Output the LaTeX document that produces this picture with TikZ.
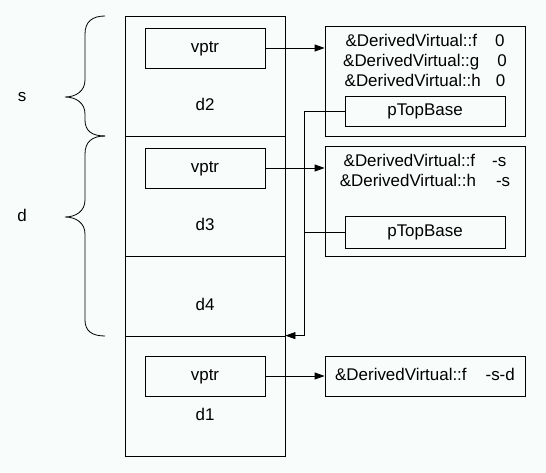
\documentclass[tikz,border=0pt]{standalone}
\usepackage{fontspec}
\setmainfont{Liberation Sans}
\usetikzlibrary{arrows.meta}
\definecolor{paper}{RGB}{248,252,250}
\tikzset{
  every node/.style={text height=12bp, text depth=3.5bp},
  cell/.style={draw, minimum width=160bp, inner sep=0pt},
  box/.style={draw, minimum width=120bp, minimum height=40bp, inner sep=0pt},
  tab/.style={draw, minimum width=200bp, inner sep=0pt},
  ptr/.style={-{Triangle[length=10bp,width=7bp]}},
}
\begin{document}
\begin{tikzpicture}[x=1bp,y=-1bp,line width=0.8bp,font=\fontsize{17}{20}\selectfont]
\fill[paper] (0,0) rectangle (546,473);
\useasboundingbox (0,0) rectangle (546,473);
% object layout
\node[cell, minimum height=120bp] (c2) at (205,76) {};
\node[cell, minimum height=120bp] (c3) at (205,196) {};
\node[cell, minimum height=80bp] (c4) at (205,296) {};
\node[cell, minimum height=120bp] (c1) at (205,396) {};
\node[box] (v2) at (205,48) {vptr};
\node[box] (v3) at (205,168) {vptr};
\node[box] (v1) at (205,376) {vptr};
\node (n2) at (205,106) {d2};
\node (n3) at (205,226) {d3};
\node (n4) at (205,306) {d4};
\node (n1) at (205,416) {d1};
% braces
\draw (105,16) .. controls (92,16) and (85,22) .. (85,34) -- (85,80)
  .. controls (85,91) and (76,97) .. (65,97)
  .. controls (76,97) and (85,103) .. (85,114) -- (85,120)
  .. controls (85,131) and (92,136) .. (105,136);
\draw (105,136) .. controls (92,136) and (85,142) .. (85,154) -- (85,200)
  .. controls (85,211) and (76,217) .. (65,217)
  .. controls (76,217) and (85,223) .. (85,234) -- (85,320)
  .. controls (85,331) and (92,336) .. (105,336);
\node (s) at (22,97) {s};
\node (d) at (22,217) {d};
% vtables
\node[tab, minimum height=110bp] (t2) at (425,81) {};
\node (f2) at (425,42) {\&DerivedVirtual::f\hspace{18bp}0};
\node (g2) at (425,62) {\&DerivedVirtual::g\hspace{18bp}0};
\node (h2) at (425,82) {\&DerivedVirtual::h\hspace{15bp}0};
\node[box, minimum width=160bp, minimum height=30bp] (p2) at (425,111.5) {pTopBase};
\node[tab, minimum height=110bp] (t3) at (425,201.5) {};
\node (f3) at (425,162) {\&DerivedVirtual::f\hspace{17bp}-s};
\node (h3) at (425,182) {\&DerivedVirtual::h\hspace{20bp}-s};
\node[box, minimum width=160bp, minimum height=32bp] (p3) at (425,232.5) {pTopBase};
\node[tab, minimum height=40bp] (t1) at (425,376) {\&DerivedVirtual::f\hspace{19bp}-s-d};
% pointers
\draw[ptr] (v2.east) -- (v2.east -| t2.west);
\draw[ptr] (v3.east) -- (v3.east -| t3.west);
\draw[ptr] (v1.east) -- (v1.east -| t1.west);
\draw[ptr] (p2.west) -- ++(-40,0) |- (c1.north east);
\draw (p3.west) -- ++(-40,0);
\end{tikzpicture}
\end{document}
